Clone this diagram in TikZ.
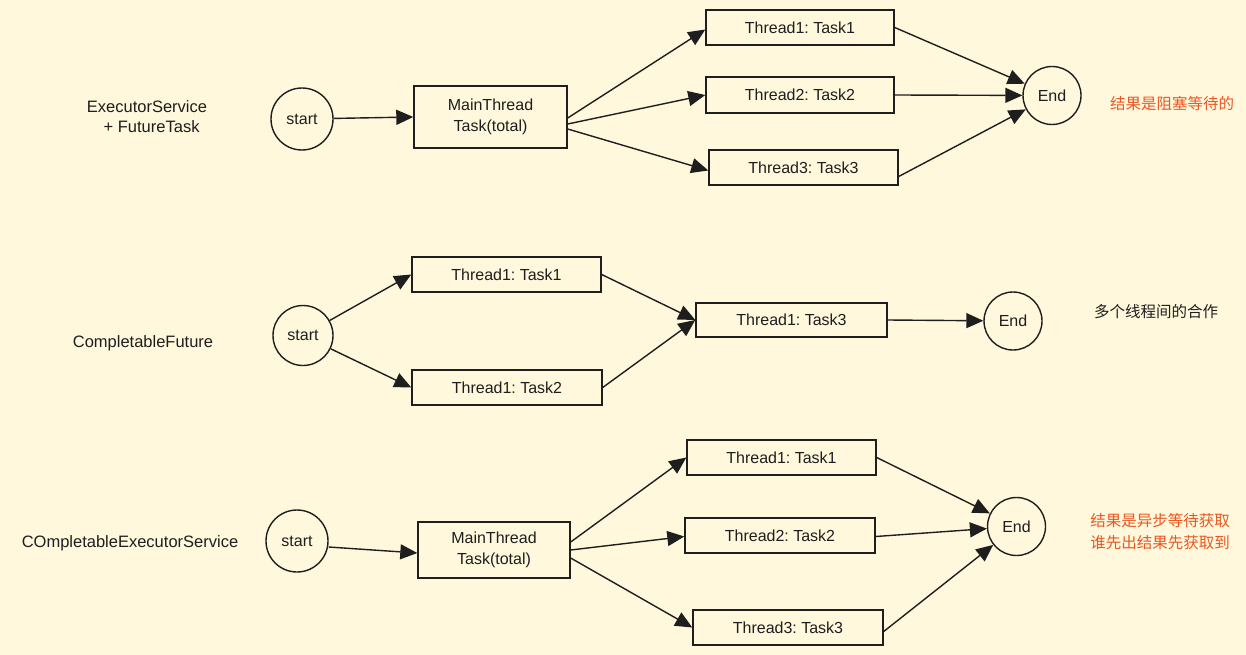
\documentclass[tikz,border=0pt]{standalone}
\usepackage{fontspec}
\setmainfont{Liberation Sans}
\newfontfamily\cjk{Noto Sans CJK SC}
\usetikzlibrary{arrows.meta}
\frenchspacing
\definecolor{bgcream}{RGB}{255,248,220}
\definecolor{inkc}{RGB}{30,30,30}
\definecolor{notered}{RGB}{235,87,35}
\begin{document}
\begin{tikzpicture}[x=1pt,y=-1pt,
  every node/.style={font=\fontsize{16}{20}\selectfont, text=inkc},
  taskbox/.style={draw=inkc, line width=1.4pt, rectangle, inner sep=0pt, minimum height=35pt, minimum width=189pt},
  mainbox/.style={draw=inkc, line width=1.4pt, rectangle, inner sep=0pt, align=center, minimum width=153pt},
  ring/.style={draw=inkc, line width=1.4pt, circle, inner sep=0pt},
  flow/.style={draw=inkc, line width=1.4pt, -{Triangle[length=17pt,width=15pt]}},
  caption/.style={align=center, font=\fontsize{16.5}{20}\selectfont},
  cjknote/.style={font=\cjk\fontsize{15.5}{22}\selectfont, align=left}
]
\fill[bgcream] (0,0) rectangle (1246,655);
\useasboundingbox (0,0) rectangle (1246,655);

% ---------- Row 1 ----------
\node[caption] (l1) at (147,117) {ExecutorService\\ \ \ + FutureTask};
\node[ring, minimum size=62pt] (a1) at (302,119) {start};
\node[mainbox, minimum height=62pt] (m1) at (490.5,117) {MainThread\\[1pt]Task(total)};
\node[taskbox, minimum width=188pt] (t11) at (800,27.5) {Thread1: Task1};
\node[taskbox, minimum width=188pt, minimum height=36pt] (t12) at (800,95) {Thread2: Task2};
\node[taskbox] (t13) at (803.5,167.5) {Thread3: Task3};
\node[ring, minimum size=58pt] (e1) at (1052,95.5) {End};
\node[cjknote, text=notered] (n1) at (1172,104) {结果是阻塞等待的};

\draw[flow] (a1) -- (m1.west);
\draw[flow] ([yshift=-1pt]m1.east) -- ([yshift=-2pt]t11.west);
\draw[flow] ([yshift=-7pt]m1.east) -- (t12.west);
\draw[flow] ([yshift=-12pt]m1.east) -- ([yshift=-3pt]t13.west);
\draw[flow] (t11.east) -- (e1);
\draw[flow] (t12.east) -- (e1);
\draw[flow] ([yshift=-9pt]t13.east) -- (e1);

% ---------- Row 2 ----------
\node[caption] (l2) at (143,343) {CompletableFuture};
\node[ring, minimum size=60pt] (a2) at (303,335.5) {start};
\node[taskbox] (t21) at (506.5,274.5) {Thread1: Task1};
\node[taskbox, minimum width=190pt] (t22) at (507,387.5) {Thread1: Task2};
\node[taskbox, minimum width=191pt, minimum height=34pt] (t23) at (791.5,320) {Thread1: Task3};
\node[ring, minimum size=58pt] (e2) at (1013,321) {End};
\node[cjknote] (n2) at (1156,312) {多个线程间的合作};

\draw[flow] (a2) -- (t21.west);
\draw[flow] (a2) -- (t22.west);
\draw[flow] (t21.east) -- (t23.west);
\draw[flow] (t22.east) -- (t23.west);
\draw[flow] (t23.east) -- (e2);

% ---------- Row 3 ----------
\node[caption] (l3) at (130,543) {COmpletableExecutorService};
\node[ring, minimum size=62pt] (a3) at (297,541) {start};
\node[mainbox, minimum width=152pt, minimum height=56pt] (m3) at (494,550) {MainThread\\[1pt]Task(total)};
\node[taskbox] (t31) at (781.5,457.5) {Thread1: Task1};
\node[taskbox, minimum width=190pt] (t32) at (780,535.5) {Thread2: Task2};
\node[taskbox, minimum width=190pt] (t33) at (788,627.5) {Thread3: Task3};
\node[ring, minimum size=58pt] (e3) at (1016.5,526.5) {End};
\node[cjknote, text=notered] (n3) at (1160,532) {结果是异步等待获取\\谁先出结果先获取到};

\draw[flow] ([yshift=-6pt]a3.east) -- ([yshift=-3pt]m3.west);
\draw[flow] ([yshift=8pt]m3.east) -- (t31.west);
\draw[flow] ([yshift=0pt]m3.east) -- ([yshift=-1pt]t32.west);
\draw[flow] ([yshift=-8pt]m3.east) -- (t33.west);
\draw[flow] (t31.east) -- (e3);
\draw[flow] ([yshift=-1pt]t32.east) -- (e3);
\draw[flow] ([yshift=-4pt]t33.east) -- (e3);
\end{tikzpicture}
\end{document}
